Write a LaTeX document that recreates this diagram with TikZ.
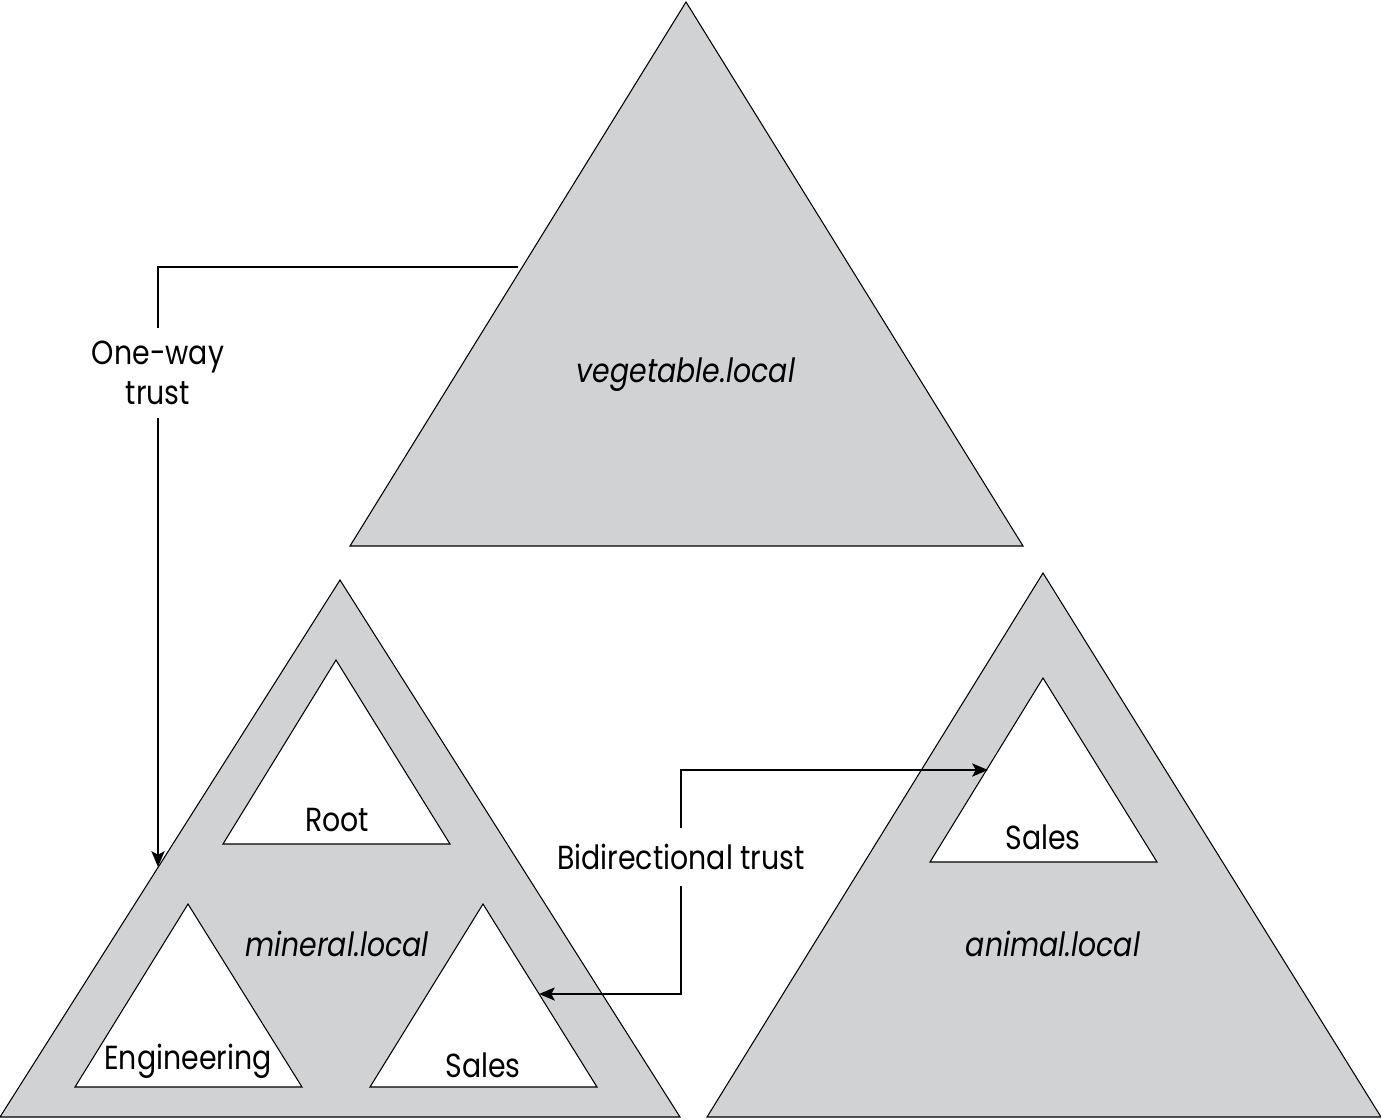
\documentclass[tikz,border=0pt]{standalone}
\usepackage{fontspec}
\setmainfont{Poppins}[FakeStretch=0.85]
\usetikzlibrary{arrows.meta}
\definecolor{domaingray}{HTML}{D1D2D4}
\tikzset{
  domtri/.style={draw=black, line width=0.6pt, fill=domaingray},
  subtri/.style={draw=black, line width=0.6pt, fill=white},
  trust/.style={line width=1pt, -{Stealth[length=9pt, width=7.5pt, inset=2pt]}},
  txt/.style={font=\fontsize{19}{23}\selectfont, inner sep=0pt},
  dname/.style={font=\fontsize{19}{23}\selectfont\itshape, inner sep=0pt}
}
\begin{document}
\begin{tikzpicture}[x=0.02cm, y=-0.02cm]
    \useasboundingbox (0,0) rectangle (1381,1119);

    % Forest root domain
    \draw[domtri] (686,2) -- (1023,546) -- (350,546) -- cycle;
    \node[dname] (veg) at (686,375) {vegetable.local};

    % Trusting domain with its OUs
    \draw[domtri] (340,580) -- (680,1117) -- (0,1117) -- cycle;
    \node[dname] (mineral) at (337,944) {mineral.local};
    \draw[subtri] (336,660) -- (450,844) -- (223,844) -- cycle;
    \node[txt] (root) at (337,820) {Root};
    \draw[subtri] (188,904) -- (302,1087) -- (75,1087) -- cycle;
    \node[txt] (eng) at (188,1061) {Engineering};
    \draw[subtri] (483,904) -- (597,1087) -- (370,1087) -- cycle;
    \node[txt] (msales) at (483,1065) {Sales};

    % Second domain
    \draw[domtri] (1043,573) -- (1381,1117) -- (707,1117) -- cycle;
    \node[dname] (animal) at (1053,944) {animal.local};
    \draw[subtri] (1043,678) -- (1157,862) -- (930,862) -- cycle;
    \node[txt] (asales) at (1043,837) {Sales};

    % Trust end points
    \coordinate (vegedge) at (518,267);
    \coordinate (minedge) at (158,867);
    \coordinate (animedge) at (988,770);
    \coordinate (msalesedge) at (539,994);

    % One-way trust
    \node[txt, align=center, inner sep=7pt] (oneway) at (158,373)
        {One-way\\trust};
    \draw[line width=1pt] (vegedge) -| (oneway.north);
    \draw[trust] (oneway.south) -- (minedge);

    % Bidirectional trust
    \node[txt, inner sep=9pt] (bidir) at (681,857) {Bidirectional trust};
    \draw[trust] (bidir.north) |- (animedge);
    \draw[trust] (bidir.south) |- (msalesedge);
\end{tikzpicture}
\end{document}
